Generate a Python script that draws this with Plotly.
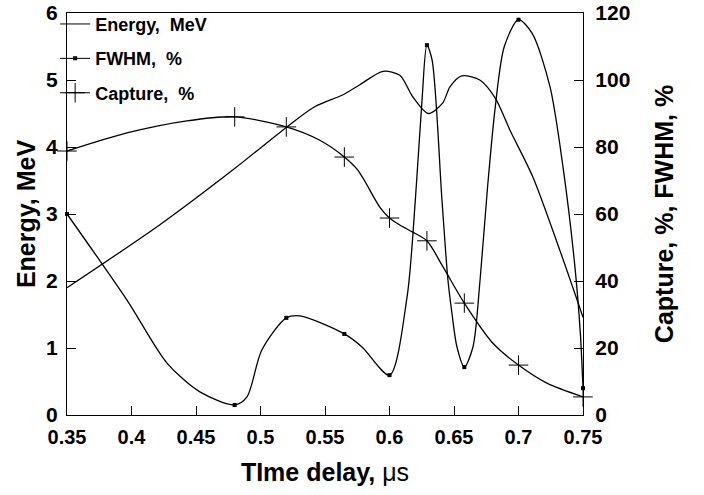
import plotly.graph_objects as go

# ---- Data ----
energy_t = [0.35, 0.422, 0.4787, 0.5205, 0.542, 0.564, 0.577, 0.595, 0.608, 0.618,
            0.63, 0.641, 0.647, 0.656, 0.67, 0.682, 0.6934, 0.7112, 0.7322, 0.75]
energy_mev = [1.9, 2.84, 3.66, 4.30, 4.6, 4.78, 4.93, 5.13, 5.07, 4.75,
              4.5, 4.65, 4.9, 5.06, 5.0, 4.73, 4.25, 3.55, 2.45, 1.46]

fwhm_curve_t = [0.35, 0.3965, 0.4275, 0.453, 0.48, 0.4895, 0.501, 0.52, 0.5306, 0.565,
                0.5787, 0.60, 0.6136, 0.62, 0.6252, 0.629, 0.633, 0.6407, 0.6453, 0.6484,
                0.6523, 0.658, 0.6647, 0.6702, 0.676, 0.682, 0.689, 0.70, 0.7105, 0.7244,
                0.7345, 0.7438, 0.748, 0.75]
fwhm_curve = [60, 34.3, 15.5, 6.9, 3.0, 5.4, 19.4, 29, 29.6, 24.2,
              20.3, 11.9, 35.2, 64, 94, 110.4, 106, 64, 40.3, 30.4,
              20.3, 14.3, 20.3, 40.3, 68, 92, 110, 118, 114, 98,
              74, 44, 24, 8]

capture_curve_t = [0.35, 0.3965, 0.443, 0.48, 0.52, 0.546, 0.565, 0.5756, 0.5926, 0.60,
                   0.608, 0.618, 0.629, 0.6415, 0.658, 0.68, 0.70, 0.722, 0.75]
capture_curve = [78.8, 84.2, 87.8, 89, 86, 82, 77, 73, 62, 58.8,
                 56.7, 54.6, 52, 44.2, 33.4, 21.5, 14.9, 9.5, 5.4]

marker_t = [0.35, 0.48, 0.52, 0.565, 0.60, 0.629, 0.658, 0.70, 0.75]
fwhm_pct = [60, 3.0, 29, 24.2, 11.9, 110.4, 14.3, 118, 8]
capture_pct = [78.8, 89, 86, 77, 58.8, 52, 33.4, 14.9, 5.4]

x_ticks = [0.35, 0.4, 0.45, 0.5, 0.55, 0.6, 0.65, 0.7, 0.75]
x_tick_labels = ["0.35", "0.4", "0.45", "0.5", "0.55", "0.6", "0.65", "0.7", "0.75"]
left_ticks = [0, 1, 2, 3, 4, 5, 6]
right_ticks = [0, 20, 40, 60, 80, 100, 120]

names = ["Energy,  MeV", "FWHM,  %", "Capture,  %"]

FONT = "Liberation Sans, Arial, Helvetica, sans-serif"
LW = 1.3

fig = go.Figure()

# curves
fig.add_trace(go.Scatter(x=energy_t, y=energy_mev, mode="lines",
                         line=dict(color="black", width=LW, shape="spline", smoothing=0.8),
                         showlegend=False, yaxis="y"))
fig.add_trace(go.Scatter(x=fwhm_curve_t, y=fwhm_curve, mode="lines",
                         line=dict(color="black", width=LW, shape="spline", smoothing=0.8),
                         showlegend=False, yaxis="y2"))
fig.add_trace(go.Scatter(x=capture_curve_t, y=capture_curve, mode="lines",
                         line=dict(color="black", width=LW, shape="spline", smoothing=0.8),
                         showlegend=False, yaxis="y2"))
# markers
fig.add_trace(go.Scatter(x=marker_t, y=fwhm_pct, mode="markers",
                         marker=dict(symbol="square", size=4, color="black"),
                         showlegend=False, yaxis="y2", cliponaxis=False))
fig.add_trace(go.Scatter(x=marker_t, y=capture_pct, mode="markers",
                         marker=dict(symbol="cross-thin", size=14,
                                     line=dict(color="black", width=1)),
                         showlegend=False, yaxis="y2", cliponaxis=False))

# legend entries
fig.add_trace(go.Scatter(x=[None], y=[None], mode="lines", name=names[0],
                         line=dict(color="black", width=1), legendgroup="a"))
fig.add_trace(go.Scatter(x=[None], y=[None], mode="lines+markers", name=names[1],
                         line=dict(color="black", width=1),
                         marker=dict(symbol="square", size=4, color="black"),
                         legendgroup="b"))
fig.add_trace(go.Scatter(x=[None], y=[None], mode="lines+markers", name=names[2],
                         line=dict(color="black", width=1),
                         marker=dict(symbol="cross-thin", size=14,
                                     line=dict(color="black", width=1)),
                         legendgroup="c"))

def axis_style(size, standoff):
    return dict(showgrid=False, zeroline=False, showline=True, linecolor="black",
                linewidth=1.2, ticks="inside", ticklen=9, tickwidth=1, tickcolor="black",
                automargin=False, ticklabelstandoff=standoff, ticklabeloverflow="allow",
                tickfont=dict(family=FONT, size=size, color="black", weight="bold"))

title_font = dict(family=FONT, size=25, color="black", weight="bold")

fig.update_layout(
    width=704, height=495,
    margin=dict(l=67, r=121, t=13, b=80, autoexpand=False),
    paper_bgcolor="white", plot_bgcolor="white",
    xaxis=dict(range=[0.35, 0.75], tickvals=x_ticks, ticktext=x_tick_labels,
               mirror=True,
               title=dict(text="TIme delay, <span style='font-weight:normal'>μs</span>",
                          font=title_font, standoff=16),
               **axis_style(20, 4)),
    yaxis=dict(range=[0, 6], tickvals=left_ticks,
               title=dict(text="Energy, MeV", font=title_font, standoff=3),
               **axis_style(21, 4)),
    yaxis2=dict(range=[0, 120], tickvals=right_ticks, overlaying="y", side="right",
                title=dict(text="Capture, %, FWHM, %", font=title_font, standoff=26),
                **axis_style(21, 7)),
    legend=dict(x=-0.023, xanchor="left", y=1.018, yanchor="top",
                bgcolor="rgba(0,0,0,0)", tracegroupgap=8,
                font=dict(family=FONT, size=18, color="black", weight="bold")),
)

# remove the default 8px page margin so the figure fills the 704x495 window
fig.write_html("out.html", config={"displayModeBar": False},
               post_script="document.body.style.margin='0';")
